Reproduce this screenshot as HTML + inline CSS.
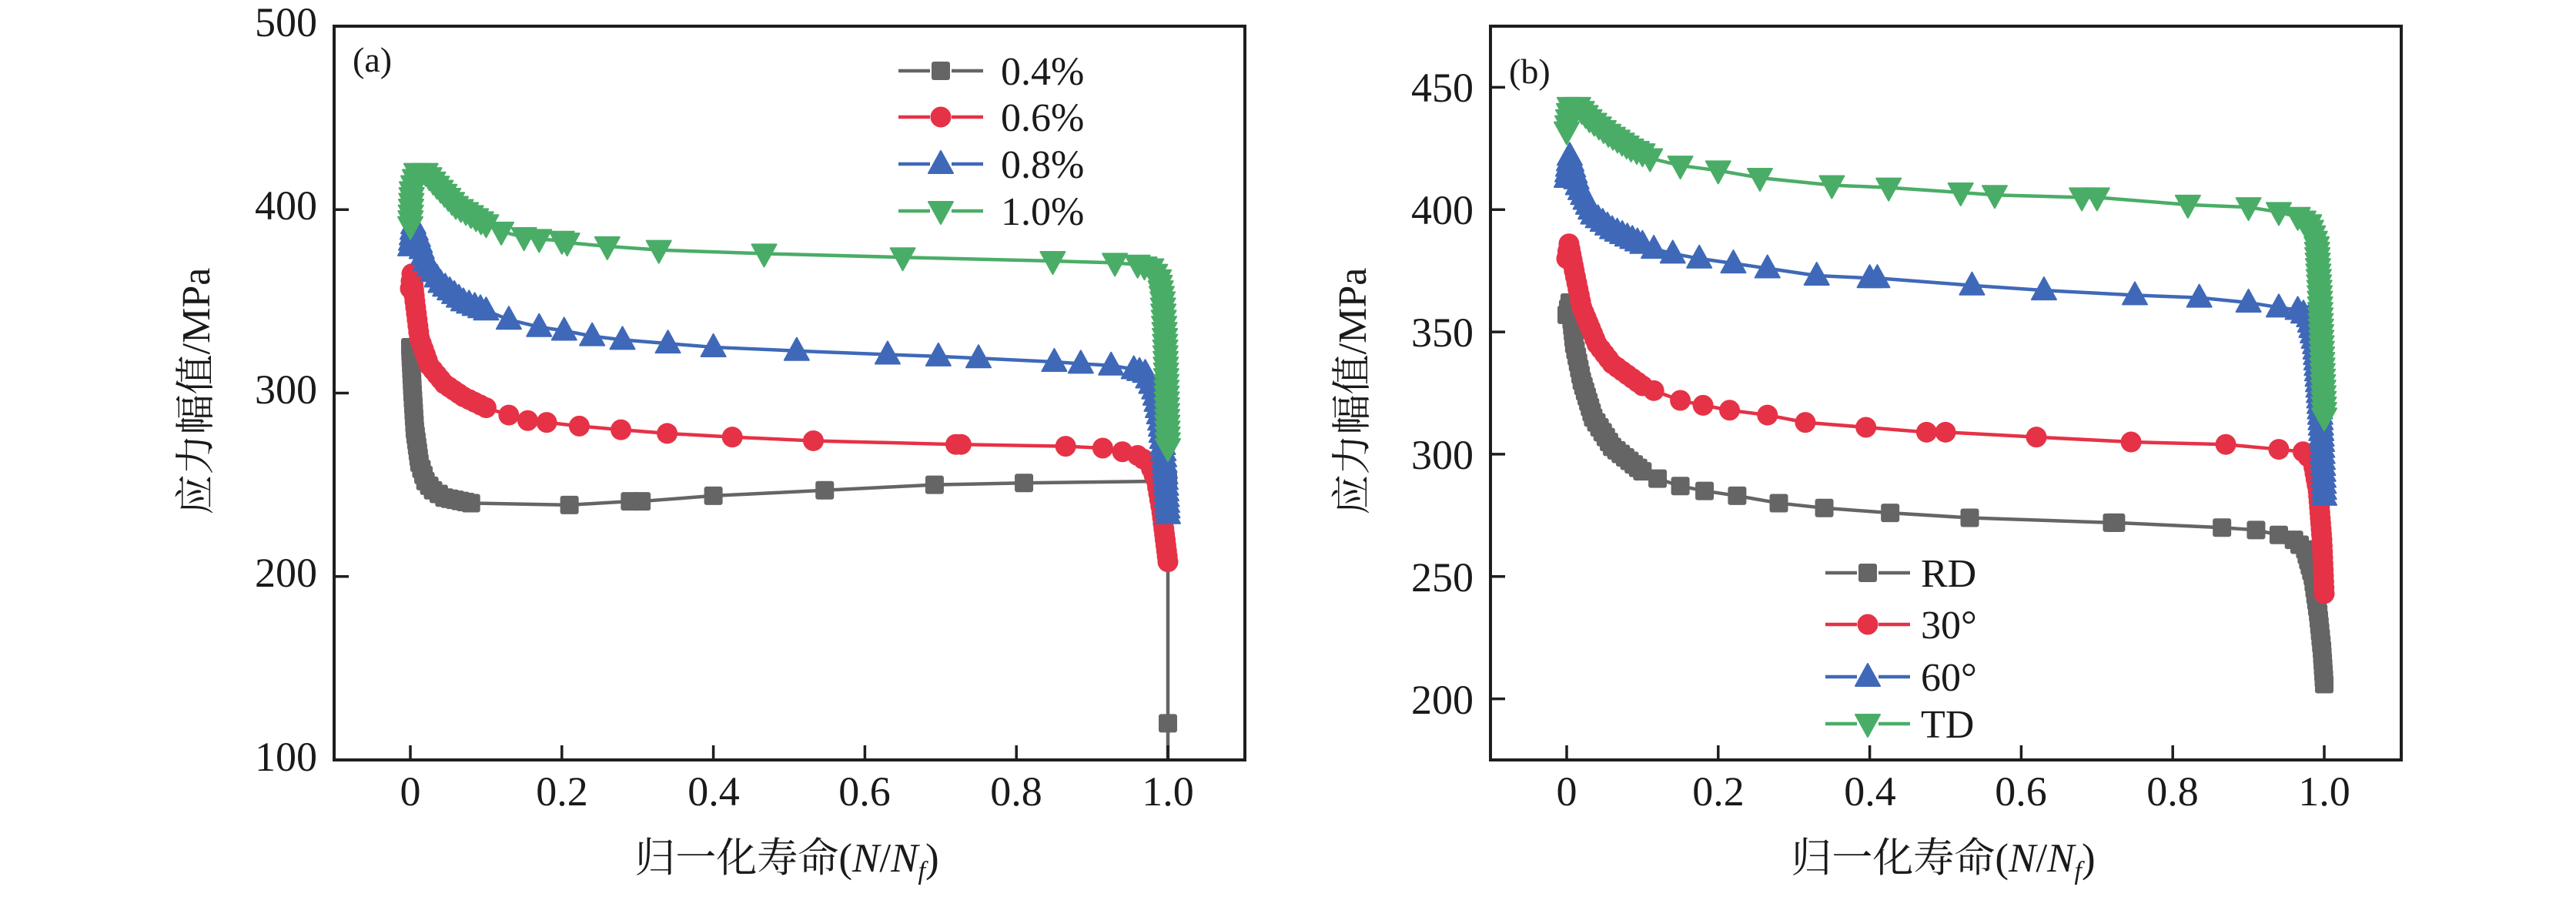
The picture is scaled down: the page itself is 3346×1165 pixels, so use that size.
<!DOCTYPE html>
<html><head><meta charset="utf-8">
<style>
html,body{margin:0;padding:0;background:#fff;font-family:'Liberation Serif','Noto Serif CJK SC',serif;}
svg{display:block;}
text,tspan{font-family:'Liberation Serif','Noto Serif CJK SC',serif !important;fill:#1a1a1a;}
</style></head>
<body>
<svg id="s" width="3346" height="1165" viewBox="0 0 3346 1165" xmlns="http://www.w3.org/2000/svg" style="font-family:'Liberation Serif','Noto Serif CJK SC',serif">
<g id="g"></g>
<g style="font-family:'Liberation Serif','Noto Serif CJK SC',serif">
<text x="458" y="93" font-size="46">(a)</text>
<g font-size="54" text-anchor="end">
<text x="412" y="47">500</text>
<text x="412" y="285">400</text>
<text x="412" y="524">300</text>
<text x="412" y="762">200</text>
<text x="412" y="1001">100</text>
</g>
<g font-size="54" text-anchor="middle">
<text x="533" y="1046">0</text>
<text x="730" y="1046">0.2</text>
<text x="927" y="1046">0.4</text>
<text x="1123" y="1046">0.6</text>
<text x="1320" y="1046">0.8</text>
<text x="1517" y="1046">1.0</text>
</g>
<text x="1022" y="1132" font-size="53" text-anchor="middle">归一化寿命(<tspan font-style="italic">N</tspan>/<tspan font-style="italic">N</tspan><tspan font-style="italic" font-size="34" dy="10">f</tspan><tspan dy="-10">)</tspan></text>
<text transform="translate(272,508) rotate(-90)" font-size="52" text-anchor="middle">应力幅值/MPa</text>
<g font-size="52">
<text x="1300" y="110">0.4%</text>
<text x="1300" y="170">0.6%</text>
<text x="1300" y="231">0.8%</text>
<text x="1300" y="292">1.0%</text>
</g>
<text x="1960" y="108" font-size="46">(b)</text>
<g font-size="54" text-anchor="end">
<text x="1914" y="132">450</text>
<text x="1914" y="291">400</text>
<text x="1914" y="450">350</text>
<text x="1914" y="609">300</text>
<text x="1914" y="768">250</text>
<text x="1914" y="927">200</text>
</g>
<g font-size="54" text-anchor="middle">
<text x="2035" y="1046">0</text>
<text x="2232" y="1046">0.2</text>
<text x="2429" y="1046">0.4</text>
<text x="2625" y="1046">0.6</text>
<text x="2822" y="1046">0.8</text>
<text x="3019" y="1046">1.0</text>
</g>
<text x="2524" y="1132" font-size="53" text-anchor="middle">归一化寿命(<tspan font-style="italic">N</tspan>/<tspan font-style="italic">N</tspan><tspan font-style="italic" font-size="34" dy="10">f</tspan><tspan dy="-10">)</tspan></text>
<text transform="translate(1774,508) rotate(-90)" font-size="52" text-anchor="middle">应力幅值/MPa</text>
<g font-size="52">
<text x="2495" y="762">RD</text>
<text x="2495" y="829">30°</text>
<text x="2495" y="897">60°</text>
<text x="2495" y="958">TD</text>
</g>
</g>
</svg>
<script>
const NS="http://www.w3.org/2000/svg";
const g=document.getElementById('g');
function el(t,a){const e=document.createElementNS(NS,t);for(const k in a)e.setAttribute(k,a[k]);g.appendChild(e);return e;}
const C={gray:'#656565',red:'#e63246',blue:'#3f69b8',green:'#4aad67'};
function marker(type,x,y,col){
  if(type==='sq') el('rect',{x:x-12,y:y-12,width:24,height:24,rx:3,fill:col});
  else if(type==='ci') el('circle',{cx:x,cy:y,r:13.5,fill:col});
  else if(type==='up') el('path',{d:`M${x},${y-17}L${x+16},${y+12}L${x-16},${y+12}Z`,fill:col,'stroke':col,'stroke-width':2,'stroke-linejoin':'round'});
  else el('path',{d:`M${x},${y+17}L${x+16},${y-12}L${x-16},${y-12}Z`,fill:col,'stroke':col,'stroke-width':2,'stroke-linejoin':'round'});
}
function panel(P){
  const X=v=>P.x0+v*984, Y=v=>P.top+(P.ymax-v)/(P.ymax-P.ymin)*953;
  for(const s of P.series){
    const pts=s.d.map(p=>[X(p[0]),Y(p[1])]);
    el('polyline',{points:pts.map(p=>p.join(',')).join(' '),fill:'none',stroke:s.c,'stroke-width':4.5,'stroke-linejoin':'round'});
    for(let i=0;i<pts.length;i++){
      const [x,y]=pts[i];marker(s.m,x,y,s.c);
      if(i<pts.length-1){
        const xv=s.d[i][0], xv2=s.d[i+1][0];
        const dense=(xv2<=0.1)||(xv>=0.955 && !(s.nodenseEnd && i>=pts.length-2));
        if(dense){const [x2,y2]=pts[i+1];const L=Math.hypot(x2-x,y2-y);const n=Math.floor(L/7);
          for(let k=1;k<n;k++)marker(s.m,x+(x2-x)*k/n,y+(y2-y)*k/n,s.c);}
      }
    }
    if(s.tail){el('line',{x1:X(1),y1:Y(s.d[s.d.length-1][1]),x2:X(1),y2:Y(s.tail),stroke:s.c,'stroke-width':4.5});}
  }
  const L=P.x0-99,R=P.x0+1084,T=P.top,B=P.top+953;
  el('rect',{x:L,y:T,width:R-L,height:B-T,fill:'none',stroke:'#1e1e1e','stroke-width':4});
  for(let v=0;v<=1.001;v+=0.2){const x=X(v);el('line',{x1:x,y1:B,x2:x,y2:B-19,stroke:'#1e1e1e','stroke-width':3.5});}
  for(const v of P.yt){const y=Y(v);el('line',{x1:L,y1:y,x2:L+19,y2:y,stroke:'#1e1e1e','stroke-width':3.5});}
  P.series.forEach((s,i)=>{const y=P.leg.y[i];
    el('line',{x1:P.leg.x1,y1:y,x2:P.leg.x2,y2:y,stroke:s.c,'stroke-width':4.5});
    el('rect',{x:P.leg.xm-14,y:y-10,width:28,height:20,fill:'#fff'});
    marker(s.m,P.leg.xm,y,s.c);});
}
panel({x0:533,top:34,ymax:500,ymin:100,yt:[200,300,400],
 leg:{x1:1167,x2:1277,xm:1222,y:[92,152,213,274]},
 series:[
 {c:C.gray,m:'sq',tail:100,nodenseEnd:true,d:[[0,325],[0.003,300],[0.006,280],[0.012,262],[0.02,252],[0.03,247],[0.045,243],[0.08,240],[0.21,239],[0.29,241],[0.305,241],[0.4,244],[0.547,247],[0.692,250],[0.81,251],[1.0,252],[1.0,120]]},
 {c:C.red,m:'ci',d:[[0,357],[0.002,365],[0.006,350],[0.012,330],[0.025,315],[0.045,305],[0.07,298],[0.1,292],[0.13,288],[0.155,285],[0.18,284],[0.223,282],[0.278,280],[0.339,278],[0.425,276],[0.532,274],[0.72,272],[0.727,272],[0.865,271],[0.914,270],[0.94,268],[0.96,266],[0.975,262],[0.985,252],[0.992,235],[1.0,208]]},
 {c:C.blue,m:'up',d:[[0,380],[0.004,392],[0.01,385],[0.02,372],[0.04,360],[0.07,350],[0.1,345],[0.13,340],[0.17,336],[0.203,334],[0.24,331],[0.28,329],[0.34,327],[0.4,325],[0.51,323],[0.63,321],[0.697,320],[0.75,319],[0.85,317],[0.885,316],[0.925,315],[0.955,313],[0.97,311],[0.982,302],[0.99,285],[0.995,265],[1.0,234]]},
 {c:C.green,m:'dn',d:[[0,391],[0.002,410],[0.008,420],[0.02,420],[0.035,413],[0.06,402],[0.1,392],[0.12,388],[0.15,385],[0.17,384],[0.2,383],[0.207,382],[0.26,380],[0.328,378],[0.467,376],[0.65,374],[0.848,372],[0.93,371],[0.96,370],[0.978,368],[0.988,362],[0.993,350],[0.996,330],[0.998,305],[1.0,270]]}
 ]});
panel({x0:2035,top:34,ymax:475,ymin:175,yt:[200,250,300,350,400,450],
 leg:{x1:2371,x2:2481,xm:2426,y:[744,811,879,940]},
 series:[
 {c:C.gray,m:'sq',d:[[0,357],[0.004,362],[0.01,345],[0.02,330],[0.035,315],[0.06,303],[0.1,293],[0.12,290],[0.15,287],[0.182,285],[0.225,283],[0.28,280],[0.34,278],[0.427,276],[0.532,274],[0.72,272],[0.725,272],[0.865,270],[0.91,269],[0.94,267],[0.96,265],[0.975,261],[0.985,250],[0.992,235],[0.997,220],[1.0,206]]},
 {c:C.red,m:'ci',d:[[0,380],[0.003,386],[0.01,375],[0.02,360],[0.04,345],[0.06,337],[0.1,328],[0.115,326],[0.15,322],[0.18,320],[0.215,318],[0.265,316],[0.315,313],[0.395,311],[0.475,309],[0.5,309],[0.62,307],[0.745,305],[0.87,304],[0.94,302],[0.972,301],[0.985,297],[0.992,285],[0.997,265],[1.0,243]]},
 {c:C.blue,m:'up',d:[[0,413],[0.004,422],[0.015,410],[0.035,398],[0.06,392],[0.1,386],[0.115,384],[0.14,382],[0.175,380],[0.22,378],[0.265,376],[0.33,373],[0.4,372],[0.41,372],[0.535,369],[0.63,367],[0.75,365],[0.835,364],[0.9,362],[0.94,360],[0.965,359],[0.98,356],[0.988,345],[0.993,325],[0.997,305],[1.0,283]]},
 {c:C.green,m:'dn',d:[[0,432],[0.004,442],[0.015,442],[0.03,437],[0.055,431],[0.085,425],[0.1,423],[0.11,421],[0.15,418],[0.2,416],[0.255,413],[0.35,410],[0.425,409],[0.52,407],[0.565,406],[0.68,405],[0.7,405],[0.82,402],[0.9,401],[0.94,399],[0.965,397],[0.98,394],[0.99,385],[0.994,365],[0.997,340],[1.0,315]]}
 ]});
</script>
</body></html>
